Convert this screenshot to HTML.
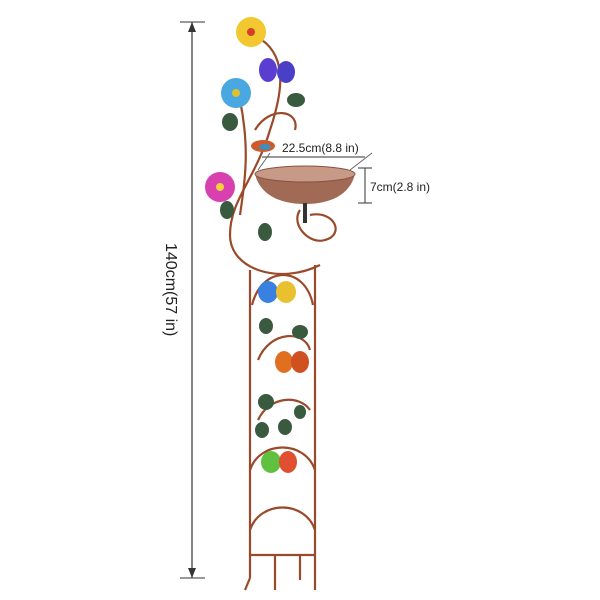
<!DOCTYPE html>
<html><head><style>html,body{margin:0;padding:0;background:#fff}svg{display:block}</style></head>
<body>
<svg width="600" height="600" viewBox="0 0 600 600" xmlns="http://www.w3.org/2000/svg" font-family="Liberation Sans, sans-serif">
<line x1="192" y1="22" x2="192" y2="578" stroke="#333" stroke-width="1.2"/>
<line x1="180" y1="22" x2="205" y2="22" stroke="#333"/>
<line x1="180" y1="578" x2="205" y2="578" stroke="#333"/>
<polygon points="192,22 188,32 196,32" fill="#333"/>
<polygon points="192,578 188,568 196,568" fill="#333"/>
<text x="0" y="0" font-size="16" fill="#222" transform="translate(166,243) rotate(90)">140cm(57 in)</text>
<g fill="none" stroke="#9a4a2a" stroke-width="2.2">
<path d="M262,40 C290,60 280,100 270,130 C255,180 230,200 230,235 C230,270 280,285 320,265"/>
<path d="M240,100 C250,150 245,180 240,215"/>
<path d="M300,210 C290,225 310,245 325,240 C345,235 335,210 310,215"/>
<path d="M250,270 L250,578 M315,265 L315,590 M250,578 L245,590"/>
<path d="M250,470 C260,440 305,440 315,470"/>
<path d="M252,305 C262,265 305,265 313,305"/>
<path d="M258,360 C270,330 305,330 310,350"/>
<path d="M258,420 C270,395 300,395 310,410"/>
<path d="M250,530 C260,500 305,500 315,530"/>
<path d="M250,555 L315,555 M275,555 L275,590 M300,555 L300,580"/>
<path d="M255,130 C270,105 300,110 295,130"/>
</g>
<path d="M255,174 C260,195 280,204 305,204 C330,204 350,195 355,174 Z" fill="#a06a55"/>
<ellipse cx="305" cy="174" rx="50" ry="8" fill="#c79a88" stroke="#8a5140"/>
<rect x="303" y="203" width="4" height="20" fill="#333"/>
<line x1="262" y1="157" x2="365" y2="157" stroke="#333"/>
<line x1="258" y1="170" x2="270" y2="153" stroke="#666"/>
<line x1="350" y1="170" x2="372" y2="153" stroke="#666"/>
<text x="282" y="152" font-size="12" fill="#222">22.5cm(8.8 in)</text>
<line x1="365" y1="168" x2="365" y2="203" stroke="#333"/>
<line x1="358" y1="168" x2="372" y2="168" stroke="#333"/>
<line x1="358" y1="203" x2="372" y2="203" stroke="#333"/>
<text x="370" y="191" font-size="12" fill="#222">7cm(2.8 in)</text>
<circle cx="251" cy="32" r="15" fill="#f2c830"/><circle cx="251" cy="32" r="4" fill="#d0402a"/>
<circle cx="236" cy="93" r="15" fill="#4aa8e0"/><circle cx="236" cy="93" r="4" fill="#e0c030"/>
<circle cx="220" cy="187" r="15" fill="#d840b0"/><circle cx="220" cy="187" r="4" fill="#f0d040"/>
<g><ellipse cx="268" cy="70" rx="9" ry="12" fill="#5a3ed0"/><ellipse cx="286" cy="72" rx="9" ry="11" fill="#4a40c8"/></g>
<g><ellipse cx="268" cy="292" rx="10" ry="11" fill="#3a80e0"/><ellipse cx="286" cy="292" rx="10" ry="11" fill="#e8c030"/></g>
<g><ellipse cx="284" cy="362" rx="9" ry="11" fill="#e07020"/><ellipse cx="300" cy="362" rx="9" ry="11" fill="#d05020"/></g>
<g><ellipse cx="271" cy="462" rx="10" ry="11" fill="#60c040"/><ellipse cx="288" cy="462" rx="9" ry="11" fill="#e05030"/></g>
<ellipse cx="263" cy="146" rx="12" ry="6" fill="#d05a2a"/><ellipse cx="265" cy="147" rx="6" ry="3" fill="#3a90c0"/>
<g fill="#3a5a40">
<ellipse cx="296" cy="100" rx="9" ry="7"/><ellipse cx="230" cy="122" rx="8" ry="9"/>
<ellipse cx="227" cy="210" rx="7" ry="9"/><ellipse cx="265" cy="232" rx="7" ry="9"/>
<ellipse cx="266" cy="326" rx="7" ry="8"/><ellipse cx="300" cy="332" rx="8" ry="7"/>
<ellipse cx="266" cy="402" rx="8" ry="8"/><ellipse cx="262" cy="430" rx="7" ry="8"/>
<ellipse cx="285" cy="427" rx="7" ry="8"/><ellipse cx="300" cy="412" rx="6" ry="7"/>
</g>
</svg>
</body></html>
